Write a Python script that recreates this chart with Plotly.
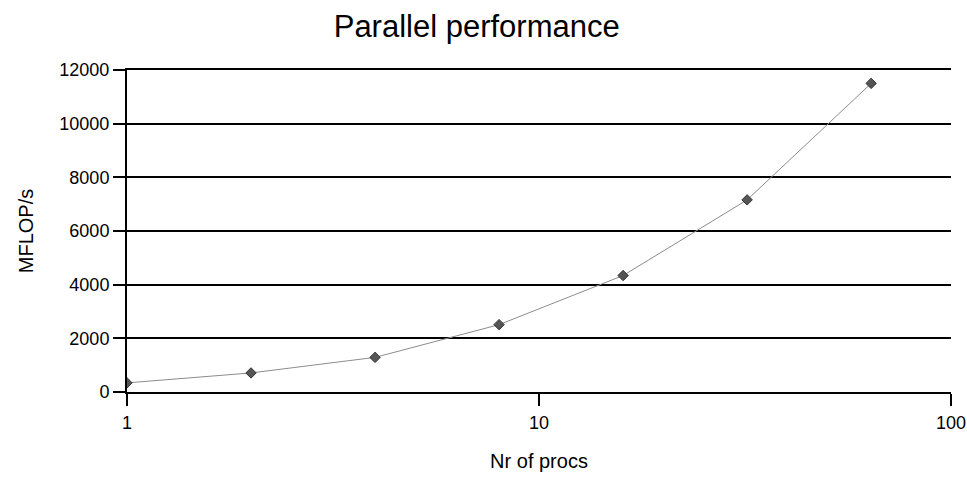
import plotly.graph_objects as go

procs = [1, 2, 4, 8, 16, 32, 64]
mflops = [340, 710, 1290, 2510, 4340, 7160, 11500]
x_ticks = [1, 10, 100]
y_ticks = [0, 2000, 4000, 6000, 8000, 10000, 12000]

fig = go.Figure()
fig.add_trace(go.Scatter(
    x=procs, y=mflops, mode="lines+markers",
    line=dict(color="#8c8c8c", width=1),
    marker=dict(symbol="diamond", size=8, color="#555555",
                line=dict(color="#333333", width=1)),
    showlegend=False,
))

font = "Liberation Sans, Arial, sans-serif"
fig.update_layout(
    width=967, height=479,
    margin=dict(l=127, r=16, t=70, b=87, pad=0),
    paper_bgcolor="white", plot_bgcolor="white",
    font=dict(family=font, color="black", size=18),
    title=dict(text="Parallel performance", x=0.493, xanchor="center",
               y=0.946, yanchor="middle", automargin=False,
               font=dict(size=31, family=font, color="black")),
)
fig.update_xaxes(
    type="log", range=[0, 2], tickvals=x_ticks, ticktext=[str(v) for v in x_ticks],
    showgrid=False, showline=True, linecolor="black", linewidth=2, mirror=True,
    ticks="outside", ticklen=12, tickwidth=2, tickcolor="black",
    ticklabelstandoff=1, automargin=False,
    title=dict(text="Nr of procs", font=dict(size=20), standoff=22),
    zeroline=False,
)
fig.update_yaxes(
    range=[0, 12000], tickvals=y_ticks, ticktext=[str(v) for v in y_ticks],
    showgrid=True, gridcolor="black", gridwidth=2,
    showline=True, linecolor="black", linewidth=2,
    ticks="outside", ticklen=12, tickwidth=2, tickcolor="black",
    ticklabelstandoff=0, automargin=False,
    title=dict(text="MFLOP/s", font=dict(size=20), standoff=20),
    zeroline=False,
)
fig.write_html(
    "out.html",
    config={"displayModeBar": False},
    post_script="document.body.style.margin='0';document.body.style.overflow='hidden';",
)
